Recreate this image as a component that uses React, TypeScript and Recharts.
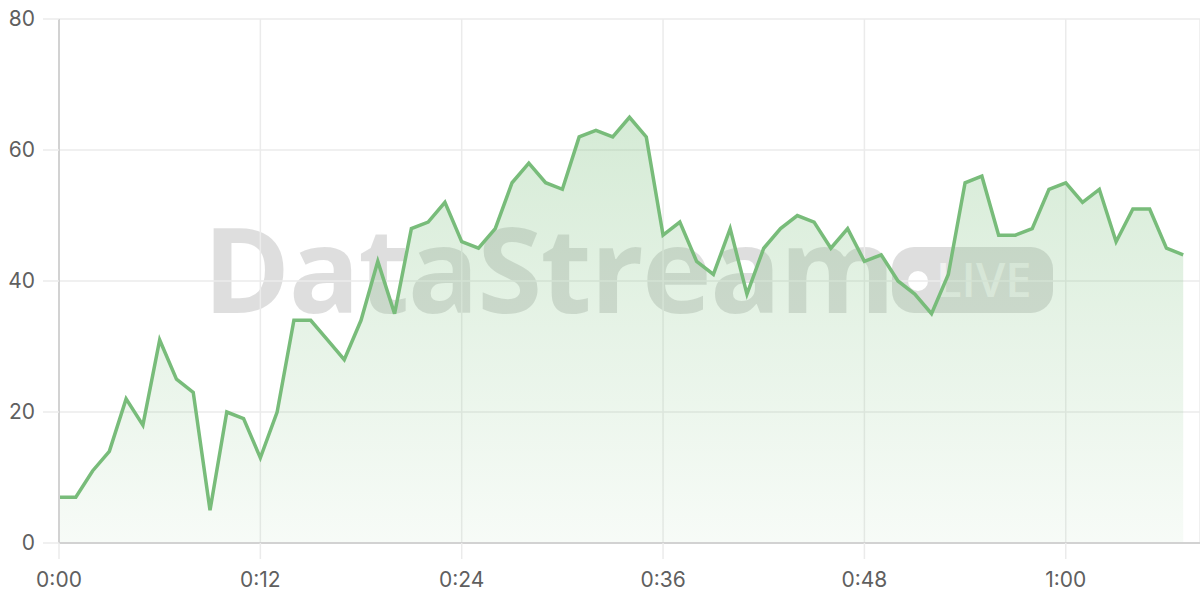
import { AreaChart, Area, XAxis, YAxis, CartesianGrid } from 'recharts';

// one reading per second, 0:00 .. 1:07
const seconds = Array.from({ length: 68 }, (_, i) => i);
const values = [
  7, 7, 11, 14, 22, 18, 31, 25, 23, 5,
  20, 19, 13, 20, 34, 34, 31, 28, 34, 43,
  35, 48, 49, 52, 46, 45, 48, 55, 58, 55,
  54, 62, 63, 62, 65, 62, 47, 49, 43, 41,
  48, 38, 45, 48, 50, 49, 45, 48, 43, 44,
  40, 38, 35, 41, 55, 56, 47, 47, 48, 54,
  55, 52, 54, 46, 51, 51, 45, 44,
];
const xTicks = [0, 12, 24, 36, 48, 60];
const xTickLabels = ['0:00', '0:12', '0:24', '0:36', '0:48', '1:00'];
const yTicks = [0, 20, 40, 60, 80];

const data = seconds.map((t, i) => ({ t, value: values[i] }));

const GREEN = '#78bc7a';
const GRID = '#ebebeb';
const AXIS = '#d2d2d2';
const TICK_TEXT = { fill: '#5f5f5f', fontSize: 21, fontFamily: 'Inter, "Liberation Sans", sans-serif' };

const Watermark = () => (
  <svg width={1200} height={600} style={{ position: 'absolute', left: 0, top: 0 }}>
    <text
      x={203}
      y={313}
      fontFamily='"Open Sans", sans-serif'
      fontWeight={700}
      fontSize={118}
      letterSpacing={-1.7}
      fill="rgba(0,0,0,0.13)"
    >
      DataStream
    </text>
    <rect x={892} y={247} width={161} height={66} rx={22} fill="rgba(0,0,0,0.13)" />
    <circle cx={918} cy={281} r={10} fill="#ffffff" />
    <text
      x={936}
      y={297}
      fontFamily='"Open Sans", sans-serif'
      fontWeight={600}
      fontSize={47}
      fill="rgba(255,255,255,0.6)"
    >
      LIVE
    </text>
  </svg>
);

export default function App() {
  return (
    <div style={{ position: 'absolute', left: 0, top: 0, width: 1200, height: 600, background: '#fff' }}>
      <Watermark />
      <div style={{ position: 'absolute', left: 0, top: 0 }}>
        <AreaChart width={1200} height={600} data={data} margin={{ top: 19, right: 0, left: 0, bottom: 0 }}>
          <defs>
            <linearGradient id="fillGreen" x1="0" y1="0" x2="0" y2="1">
              <stop offset="0%" stopColor="#7cc07e" stopOpacity={0.32} />
              <stop offset="100%" stopColor="#7cc07e" stopOpacity={0.06} />
            </linearGradient>
          </defs>
          <CartesianGrid stroke={GRID} strokeWidth={1.5} />
          <XAxis
            dataKey="t"
            type="number"
            domain={[0, 68]}
            ticks={xTicks}
            tickFormatter={(v: number) => xTickLabels[xTicks.indexOf(v)]}
            height={57}
            tickSize={16}
            tickMargin={13}
            tick={TICK_TEXT}
            tickLine={{ stroke: GRID, strokeWidth: 1.5 }}
            axisLine={{ stroke: AXIS, strokeWidth: 2 }}
          />
          <YAxis
            domain={[0, 80]}
            ticks={yTicks}
            width={59}
            tickSize={16}
            tickMargin={8}
            tick={TICK_TEXT}
            tickLine={{ stroke: GRID, strokeWidth: 1.5 }}
            axisLine={{ stroke: AXIS, strokeWidth: 2 }}
          />
          <Area
            type="linear"
            dataKey="value"
            stroke={GREEN}
            strokeWidth={3.5}
            fill="url(#fillGreen)"
            fillOpacity={1}
            dot={false}
            activeDot={false}
            isAnimationActive={false}
          />
        </AreaChart>
      </div>
    </div>
  );
}
